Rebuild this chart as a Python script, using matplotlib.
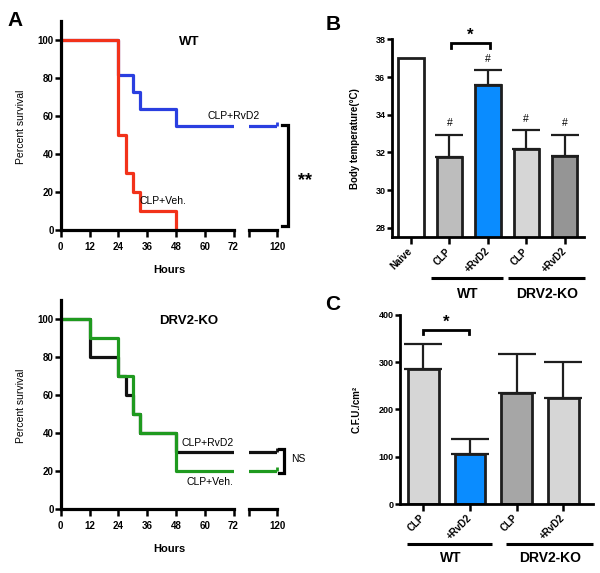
import numpy as np
import matplotlib
matplotlib.use('Agg')
import matplotlib.pyplot as plt
import matplotlib.transforms as mtransforms

plt.rcParams['font.family'] = ['Liberation Sans', 'DejaVu Sans']

# --- data -------------------------------------------------------------
# panel A, survival (%) vs hours
wt_hours_veh = [0, 24, 27, 30, 33, 48]
wt_surv_veh = [100, 50, 30, 20, 10, 0]
wt_hours_rvd2 = [0, 24, 30, 33, 48, 120]
wt_surv_rvd2 = [100, 81.8, 72.7, 63.6, 54.5, 54.5]
ko_hours_veh = [0, 12, 24, 30, 33, 48, 120]
ko_surv_veh = [100, 90, 70, 50, 40, 20, 20]
ko_hours_rvd2 = [0, 12, 24, 27, 30, 33, 48, 120]
ko_surv_rvd2 = [100, 80, 70, 60, 50, 40, 30, 30]
hour_ticks = [0, 12, 24, 36, 48, 60, 72]
surv_ticks = [0, 20, 40, 60, 80, 100]

# panel B, body temperature
temp_labels = ['Naive', 'CLP', '+RvD2', 'CLP', '+RvD2']
temp_mean = [37.0, 31.75, 35.57, 32.2, 31.8]
temp_sem = [0, 1.2, 0.8, 1.0, 1.15]
temp_hash = [False, True, True, True, True]

# panel C, bacterial load
cfu_labels = ['CLP', '+RvD2', 'CLP', '+RvD2']
cfu_mean = [286, 105, 235, 225]
cfu_sem = [53, 32, 83, 75]

# --- layout -----------------------------------------------------------
W, H = 600, 573
fig = plt.figure(figsize=(W / 100, H / 100), dpi=100)


def box(x0, y0, x1, y1):
    # pixel box (top-left origin) -> figure fraction rect
    return [x0 / W, 1 - y1 / H, (x1 - x0) / W, (y1 - y0) / H]


RED = '#f2321a'
BLUE = '#2a3fe0'
GREEN = '#1f9a1f'
BLACK = '#111111'
BARBLUE = '#0a8cff'
EDGE = '#1e1e1e'


def survival(y_top, y_zero, curves, title, labels, bracket, sig):
    ax = fig.add_axes(box(60.7, y_top, 233.5, y_zero))
    axr = fig.add_axes(box(249.3, y_top, 277.3, y_zero))
    axr.patch.set_visible(False)
    for a in (ax, axr):
        for t, s, c in curves:
            a.step(t, s, where='post', color=c, lw=2.3, solid_capstyle='butt')
        a.set_ylim(0, 110)
        for sp in ('top', 'right'):
            a.spines[sp].set_visible(False)
        a.spines['bottom'].set_linewidth(2.3)
        a.tick_params(axis='both', which='major', direction='out', length=5, width=1.8,
                      labelsize=7)
        a.tick_params(axis='x', which='minor', direction='in', length=3, width=1.8)
    # censor ticks at the end of the follow-up
    for t, s, c in curves:
        if t[-1] > 72:
            axr.plot(t[-1], s[-1], marker=2, ms=3, mew=2, color=c, clip_on=False)
    ax.set_xlim(0, 72)
    ax.spines['left'].set_linewidth(2.3)
    ax.set_xticks(hour_ticks)
    ax.set_xticks([72], minor=True)
    ax.set_yticks(surv_ticks)
    ax.tick_params(axis='y', length=4, pad=1)
    ax.set_xticklabels([str(h) for h in hour_ticks], fontweight='bold')
    ax.set_yticklabels([str(v) for v in surv_ticks], fontweight='bold')
    lo = 108.3
    axr.set_xlim(lo, 120)
    axr.spines['left'].set_visible(False)
    axr.set_yticks([])
    axr.set_xticks([lo, 120])
    axr.set_xticks([lo], minor=True)
    axr.set_xticklabels(['', '120'], fontweight='bold')

    ax.text(53.4, 99, title, ha='center', va='center', fontsize=9.5, fontweight='bold')
    for txt, x, y in labels:
        ax.text(x, y, txt, ha='center', va='center', fontsize=7.5, zorder=5)
    bx, btick, b0, b1 = bracket
    axr.plot([btick, bx, bx, btick], [b1, b1, b0, b0], color='black', lw=2.3,
             clip_on=False, solid_joinstyle='miter')
    sx, sy, stxt, ssize = sig
    axr.text(sx, sy, stxt, ha='center', va='center', fontsize=ssize,
             fontweight='bold' if stxt.startswith('*') else 'normal')
    ax.text(0.627, -0.19, 'Hours', transform=ax.transAxes, ha='center', va='center',
            fontsize=8, fontweight='bold')
    ax.text(-0.231, 0.495, 'Percent survival', transform=ax.transAxes, rotation=90,
            ha='center', va='center', fontsize=7.5)
    return ax


survival(21, 230,
         [(wt_hours_rvd2, wt_surv_rvd2, BLUE), (wt_hours_veh, wt_surv_veh, RED)],
         'WT',
         [('CLP+RvD2', 72, 60), ('CLP+Veh.', 42.4, 15.3)],
         (124.6, 121.9, 2, 55.5), (131.5, 26, '**', 13))

survival(300, 509,
         [(ko_hours_rvd2, ko_surv_rvd2, BLACK), (ko_hours_veh, ko_surv_veh, GREEN)],
         'DRV2-KO',
         [('CLP+RvD2', 61.4, 35), ('CLP+Veh.', 62.2, 14.4)],
         (122.9, 120.8, 18.8, 31.4), (128.6, 26.2, 'NS', 7.5))


def bars(rect, means, sems, colors, labels, ylim, yticks, xlim, ylabel, ylab_x,
         groups, group_y, text_y, sig):
    ax = fig.add_axes(rect)
    x = np.arange(len(means))
    ax.bar(x, means, width=0.66, color=colors, edgecolor=EDGE, linewidth=2, zorder=2)
    m = np.array(sems) > 0
    ax.errorbar(x[m], np.array(means)[m], yerr=[np.zeros(m.sum()), np.array(sems)[m]],
                fmt='none', ecolor=EDGE, elinewidth=1.6, capsize=sig[4], capthick=1.6,
                zorder=1)
    ax.set_xlim(*xlim)
    ax.set_ylim(*ylim)
    ax.set_yticks(yticks)
    ax.set_yticklabels([str(v) for v in yticks], fontweight='bold')
    ax.set_xticks(x)
    ax.set_xticklabels(labels, rotation=45, ha='right', va='center',
                       rotation_mode='anchor', fontweight='bold', fontsize=7)
    for sp in ('top', 'right'):
        ax.spines[sp].set_visible(False)
    for sp in ('left', 'bottom'):
        ax.spines[sp].set_linewidth(2)
    ax.tick_params(axis='x', direction='out', length=5, width=1.8, pad=4)
    ax.tick_params(axis='y', direction='out', length=3.5, width=1.8, labelsize=6.5, pad=1)
    ax.set_ylabel(ylabel, fontsize=7, fontweight='bold')
    ax.yaxis.set_label_coords(ylab_x, 0.5)
    tr = mtransforms.blended_transform_factory(ax.transData, ax.transAxes)
    for (g0, g1, name) in groups:
        ax.plot([g0, g1], [group_y, group_y], color='black', lw=2.2, transform=tr,
                clip_on=False, solid_capstyle='butt')
        ax.text((g0 + g1) / 2 + 0.03, text_y, name, transform=tr, ha='center',
                va='center', fontsize=10, fontweight='bold')
    s0, s1, top, drop, _ = sig
    ax.plot([s0, s0, s1, s1], [top - drop, top, top, top - drop], color='black', lw=2,
            clip_on=False, solid_joinstyle='miter')
    ax.text((s0 + s1) / 2, top, '*', ha='center', va='bottom', fontsize=12,
            fontweight='bold')
    return ax


axb = bars(box(391.7, 39.3, 584, 237.3), temp_mean, temp_sem,
           ['white', '#bdbdbd', BARBLUE, '#d6d6d6', '#959595'], temp_labels,
           (27.5, 38), [28, 30, 32, 34, 36, 38], (-0.5, 4.5),
           'Body temperature(°C)', -0.165,
           [(0.51, 2.39, 'WT'), (2.52, 4.52, 'DRV2-KO')], -0.207, -0.285,
           (1.04, 2.06, 37.83, 0.27, 10))
for i in range(len(temp_mean)):
    if temp_hash[i]:
        axb.annotate('#', (i, temp_mean[i] + temp_sem[i]), xytext=(0, 4.5),
                     textcoords='offset points', ha='center', va='bottom', fontsize=7.5)

bars(box(400, 314.7, 592.5, 504), cfu_mean, cfu_sem,
     ['#d6d6d6', BARBLUE, '#a6a6a6', '#d6d6d6'], cfu_labels,
     (0, 400), [0, 100, 200, 300, 400], (-0.5, 3.63),
     'C.F.U./cm²', -0.197,
     [(-0.355, 1.48, 'WT'), (1.77, 3.63, 'DRV2-KO')], -0.213, -0.287,
     (-0.01, 0.98, 367.6, 9, 14))

for letter, x, y in [('A', 15, 20), ('B', 333, 25), ('C', 333, 305)]:
    fig.text(x / W, 1 - y / H, letter, ha='center', va='center', fontsize=15,
             fontweight='bold')

fig.savefig('out.png', dpi=100)
